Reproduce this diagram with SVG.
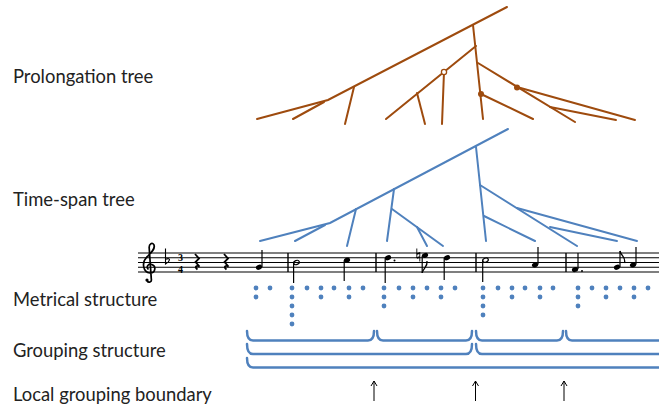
<svg xmlns="http://www.w3.org/2000/svg" width="659" height="411" viewBox="0 0 659 411">
<style>
.lbl{font-family:Lato,"Liberation Sans",sans-serif;font-size:18.4px;fill:#222}
.pt{stroke:#9E4B0E;stroke-width:2;fill:none;stroke-linecap:round}
.ts{stroke:#4F81BD;stroke-width:2;fill:none;stroke-linecap:round}
.staff{stroke:#000;stroke-width:1.2}
.bar{stroke:#000;stroke-width:1.4}
.stem{stroke:#000;stroke-width:1.2}
.dot{fill:#4F81BD}
.grp{stroke:#4F81BD;stroke-width:2.5;fill:none;stroke-linecap:round;stroke-linejoin:round}
.arr{stroke:#000;stroke-width:1;fill:none}
.ink{stroke:#000;fill:none}
.ts-num{font-family:"Liberation Serif",serif;font-weight:bold;font-size:10px;fill:#000}
</style>
<g id="labels">
<text class="lbl" x="13" y="83">Prolongation tree</text>
<text class="lbl" x="13" y="206">Time-span tree</text>
<text class="lbl" x="13" y="306">Metrical structure</text>
<text class="lbl" x="13" y="357">Grouping structure</text>
<text class="lbl" x="13" y="401">Local grouping boundary</text>
</g>
<g id="prolongation-tree">
<path class="pt" d="M507 7 L328 100 L257 119"/>
<path class="pt" d="M324 102 L293 119"/>
<path class="pt" d="M354 87 L345 124"/>
<path class="pt" d="M473 25 L483 119"/>
<path class="pt" d="M476 46 L386 119"/>
<path class="pt" d="M444 72 L442 124"/>
<path class="pt" d="M417 93 L425 124"/>
<path class="pt" d="M478 63 L575 122"/>
<path class="pt" d="M517 87 L635 120"/>
<path class="pt" d="M550 107 L616 120"/>
<path class="pt" d="M481 94 L533 119"/>
<circle cx="444" cy="72" r="2.6" fill="#fff" stroke="#9E4B0E" stroke-width="1.3"/>
<circle cx="481" cy="94" r="3" fill="#9E4B0E"/>
<circle cx="517" cy="87.5" r="3" fill="#9E4B0E"/>
</g>
<g id="time-span-tree">
<path class="ts" d="M508 129 L330 223 L260 241"/>
<path class="ts" d="M325 225 L295 241"/>
<path class="ts" d="M356 209 L347 246"/>
<path class="ts" d="M394 189 L387 241"/>
<path class="ts" d="M392 209 L443 246"/>
<path class="ts" d="M417 227 L427 246"/>
<path class="ts" d="M476 147 L486 241"/>
<path class="ts" d="M480 185 L577 246"/>
<path class="ts" d="M517 208 L637 241"/>
<path class="ts" d="M550 227 L617 241"/>
<path class="ts" d="M484 216 L535 241"/>
</g>
<g id="score">
<g class="staff">
<line x1="138" y1="253" x2="659" y2="253"/>
<line x1="138" y1="257.75" x2="659" y2="257.75"/>
<line x1="138" y1="262.5" x2="659" y2="262.5"/>
<line x1="138" y1="267.25" x2="659" y2="267.25"/>
<line x1="138" y1="272" x2="659" y2="272"/>
</g>
<g class="bar">
<line x1="288" y1="253" x2="288" y2="272"/>
<line x1="376" y1="253" x2="376" y2="272"/>
<line x1="476" y1="253" x2="476" y2="272"/>
<line x1="566" y1="253" x2="566" y2="272"/>
</g>
<path class="ink" stroke-width="1.7" d="M147 280.5 C148.5 283.5 152 282 151.3 279 L149.2 248 C148.8 243.5 152.5 242 154 245 C155.5 249 151 253 146.5 257.5 C141.5 262.5 143 272.5 150 273 C155.5 273.3 156.5 266 151.8 264.5 C148 263.3 145.8 267 148.5 269.5"/>
<circle cx="147" cy="280" r="1.6" fill="#000"/>
<path class="ink" stroke-width="1.1" d="M165.5 248.5 L165.5 264 C170 261.5 171.5 257 165.5 259.3"/>
<text class="ts-num" x="178" y="260.5">3</text>
<text class="ts-num" x="178" y="273">4</text>
<path class="ink" stroke-width="1.8" d="M195 254 L199 258.5 L195.5 262 L199.5 266.5 C196 265 194.5 267 197.5 269.5"/>
<path class="ink" stroke-width="1.8" d="M224 254 L228 258.5 L224.5 262 L228.5 266.5 C225 265 223.5 267 226.5 269.5"/>
<g fill="#000">
<ellipse cx="259" cy="267.25" rx="3.2" ry="2.4" transform="rotate(-22 259 267.25)"/>
<ellipse cx="347" cy="260.1" rx="3.2" ry="2.4" transform="rotate(-22 347 260.1)"/>
<ellipse cx="388" cy="257.75" rx="3.2" ry="2.4" transform="rotate(-22 388 257.75)"/>
<circle cx="394.5" cy="260.5" r="1"/>
<ellipse cx="425" cy="255.4" rx="3.2" ry="2.4" transform="rotate(-22 425 255.4)"/>
<ellipse cx="447" cy="257.75" rx="3.2" ry="2.4" transform="rotate(-22 447 257.75)"/>
<ellipse cx="535" cy="264.9" rx="3.2" ry="2.4" transform="rotate(-22 535 264.9)"/>
<ellipse cx="575" cy="269.6" rx="3.2" ry="2.4" transform="rotate(-22 575 269.6)"/>
<circle cx="582" cy="271" r="1"/>
<ellipse cx="617" cy="267.25" rx="3.2" ry="2.4" transform="rotate(-22 617 267.25)"/>
<ellipse cx="633" cy="264.9" rx="3.2" ry="2.4" transform="rotate(-22 633 264.9)"/>
</g>
<ellipse cx="296.5" cy="262.5" rx="2.9" ry="2" transform="rotate(-22 296.5 262.5)" fill="none" stroke="#000" stroke-width="1.2"/>
<ellipse cx="485.5" cy="260.1" rx="2.9" ry="2" transform="rotate(-22 485.5 260.1)" fill="none" stroke="#000" stroke-width="1.2"/>
<path class="ink" stroke-width="0.9" d="M416.8 248.5 L416.8 258 M419.8 252 L419.8 261.5"/>
<path class="ink" stroke-width="1.6" d="M416.8 254 L419.8 253 M416.8 258 L419.8 257"/>
<g class="stem">
<line x1="262" y1="267" x2="262" y2="250"/>
<line x1="293.6" y1="263" x2="293.6" y2="283"/>
<line x1="344.2" y1="260.5" x2="344.2" y2="281"/>
<line x1="385.2" y1="258" x2="385.2" y2="283"/>
<line x1="422.2" y1="256" x2="422.2" y2="273"/>
<line x1="444.2" y1="258" x2="444.2" y2="280"/>
<line x1="482.7" y1="260.5" x2="482.7" y2="282"/>
<line x1="538" y1="264.5" x2="538" y2="247"/>
<line x1="578" y1="269" x2="578" y2="253"/>
<line x1="620" y1="267" x2="620" y2="251"/>
<line x1="636" y1="264.5" x2="636" y2="247"/>
</g>
<path d="M422.2 273 C423 268 428 267 427 261" stroke="#000" stroke-width="1.3" fill="none"/>
<path d="M620 251 C621 256 626 257 624.5 263" stroke="#000" stroke-width="1.3" fill="none"/>
</g>
<g id="metrical-structure">
<g class="dot">
<circle cx="256" cy="288" r="2.4"/><circle cx="256" cy="297" r="2.4"/>
<circle cx="270" cy="288" r="2.4"/>
<circle cx="292" cy="288" r="2.4"/><circle cx="292" cy="297" r="2.4"/><circle cx="292" cy="306" r="2.4"/><circle cx="292" cy="315" r="2.4"/><circle cx="292" cy="324" r="2.4"/>
<circle cx="307" cy="288" r="2.4"/>
<circle cx="321" cy="288" r="2.4"/><circle cx="321" cy="297" r="2.4"/>
<circle cx="334" cy="288" r="2.4"/>
<circle cx="349" cy="288" r="2.4"/><circle cx="349" cy="297" r="2.4"/>
<circle cx="363" cy="288" r="2.4"/>
<circle cx="384" cy="288" r="2.4"/><circle cx="384" cy="297" r="2.4"/><circle cx="384" cy="306" r="2.4"/>
<circle cx="399" cy="288" r="2.4"/>
<circle cx="413" cy="288" r="2.4"/><circle cx="413" cy="297" r="2.4"/>
<circle cx="427" cy="288" r="2.4"/>
<circle cx="441" cy="288" r="2.4"/><circle cx="441" cy="297" r="2.4"/>
<circle cx="455" cy="288" r="2.4"/>
<circle cx="483" cy="288" r="2.4"/><circle cx="483" cy="297" r="2.4"/><circle cx="483" cy="306" r="2.4"/><circle cx="483" cy="315" r="2.4"/>
<circle cx="498" cy="288" r="2.4"/>
<circle cx="512" cy="288" r="2.4"/><circle cx="512" cy="297" r="2.4"/>
<circle cx="525" cy="288" r="2.4"/>
<circle cx="540" cy="288" r="2.4"/><circle cx="540" cy="297" r="2.4"/>
<circle cx="553" cy="288" r="2.4"/>
<circle cx="578" cy="288" r="2.4"/><circle cx="578" cy="297" r="2.4"/><circle cx="578" cy="306" r="2.4"/>
<circle cx="592" cy="288" r="2.4"/>
<circle cx="606" cy="288" r="2.4"/><circle cx="606" cy="297" r="2.4"/>
<circle cx="620" cy="288" r="2.4"/>
<circle cx="634" cy="288" r="2.4"/><circle cx="634" cy="297" r="2.4"/>
<circle cx="648" cy="288" r="2.4"/>
</g>
</g>
<g id="grouping-structure">
<path class="grp" d="M247 331 Q247 340.5 253 340.5 L368 340.5 Q374 340.5 374 331"/>
<path class="grp" d="M377 331 Q377 340.5 383 340.5 L466 340.5 Q472 340.5 472 331"/>
<path class="grp" d="M476 331 Q476 340.5 482 340.5 L557 340.5 Q563 340.5 563 331"/>
<path class="grp" d="M566 331 Q566 340.5 572 340.5 L665 340.5"/>
<path class="grp" d="M247 344 Q247 354 253 354 L466 354 Q472 354 472 344"/>
<path class="grp" d="M476 344 Q476 354 482 354 L665 354"/>
<path class="grp" d="M247 358 Q247 367.5 253 367.5 L665 367.5"/>
</g>
<g id="boundaries">
<path class="arr" d="M374 401 L374 381 M371 386 L374 381 L377 386"/>
<path class="arr" d="M475.5 401 L475.5 381 M472.5 386 L475.5 381 L478.5 386"/>
<path class="arr" d="M564 401 L564 381 M561 386 L564 381 L567 386"/>
</g>
</svg>
